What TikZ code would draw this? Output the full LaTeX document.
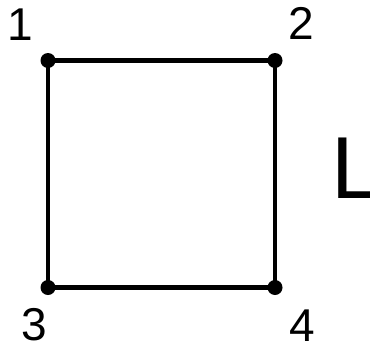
\documentclass[tikz,border=0pt]{standalone}
\usepackage{fontspec}
\setmainfont{Liberation Sans}
\begin{document}
\begin{tikzpicture}[x=1pt,y=-1pt,
  vert/.style={circle,fill=black,inner sep=0pt,minimum size=15pt},
  edge/.style={line width=4.5pt},
  lbl/.style={inner sep=0pt,font=\fontsize{46}{46}\selectfont}]
\useasboundingbox (0,0) rectangle (370,346);
\node[vert] (v1) at (48,60.5) {};
\node[vert] (v2) at (275,60.5) {};
\node[vert] (v3) at (48,287.5) {};
\node[vert] (v4) at (275,287.5) {};
\draw[edge] (v1.center) -- (v2.center) -- (v4.center) -- (v3.center) -- cycle;
\node[lbl] (l1) at (20,24.5) {1};
\node[lbl] (l2) at (301.5,23.5) {2};
\node[lbl] (l3) at (34.5,325) {3};
\node[lbl] (l4) at (302,325.5) {4};
\node[inner sep=0pt,anchor=base west,font=\fontsize{88}{88}\selectfont] (L) at (331,198) {L};
\end{tikzpicture}
\end{document}
